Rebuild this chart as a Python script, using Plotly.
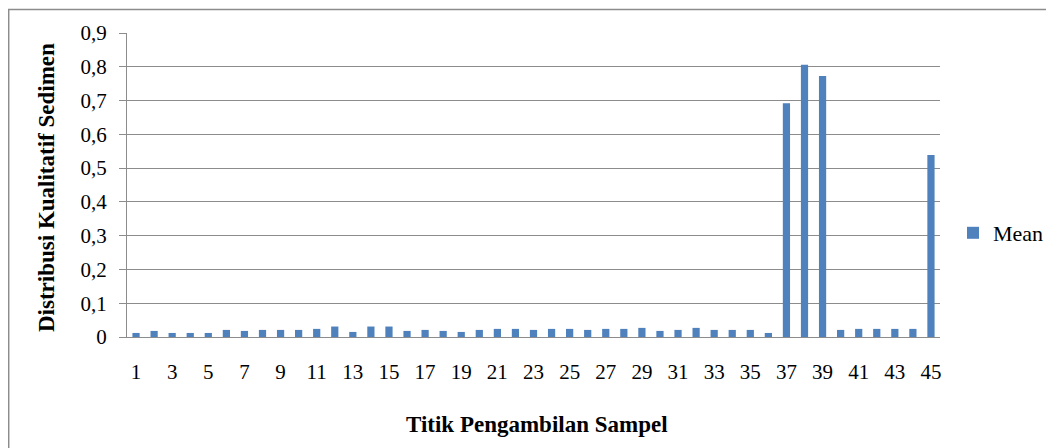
import plotly.graph_objects as go

samples = list(range(1, 46))
mean_values = [
    0.012, 0.018, 0.012, 0.012, 0.012, 0.021, 0.018, 0.021, 0.021, 0.021,
    0.024, 0.031, 0.015, 0.031, 0.031, 0.018, 0.021, 0.018, 0.015, 0.021,
    0.024, 0.024, 0.021, 0.024, 0.024, 0.021, 0.024, 0.024, 0.027, 0.018,
    0.021, 0.027, 0.021, 0.021, 0.021, 0.012, 0.692, 0.806, 0.773, 0.021,
    0.024, 0.024, 0.024, 0.024, 0.539,
]
tick_labels = [str(i) for i in range(1, 46, 2)]

FONT = "Liberation Serif, Times New Roman, serif"
GRID = "#8c8c8c"

fig = go.Figure()
fig.add_trace(go.Bar(x=samples, y=mean_values, name="Mean",
                     marker=dict(color="#4F81BD", line=dict(width=0))))

# page body has an 8px margin; figure sized to fit the window
OFF = 8
W, H = 1046, 440
L, R, T, B = 119, 114, 25, 111
pw, ph = W - L - R, H - T - B

def px(xs):
    return (xs - OFF - L) / pw

def py(ys):
    return (H - B - (ys - OFF)) / ph

fig.update_layout(
    width=W, height=H,
    margin=dict(l=L, r=R, t=T, b=B, autoexpand=False),
    paper_bgcolor="white", plot_bgcolor="white",
    separators=",.",
    bargap=0.6,
    font=dict(family=FONT, size=21, color="black"),
    showlegend=True,
    legend=dict(x=px(953), y=py(233), xanchor="left", yanchor="middle",
                font=dict(family=FONT, size=22), bgcolor="rgba(0,0,0,0)"),
    xaxis=dict(range=[0.5, 45.5], tickmode="array",
               tickvals=list(range(1, 46, 2)), ticktext=tick_labels,
               showgrid=False, showline=True, linecolor=GRID, linewidth=1,
               ticks="", ticklen=0, tickfont=dict(size=21),
               ticklabelstandoff=16, automargin=False),
    yaxis=dict(range=[0, 0.9], dtick=0.1, tick0=0,
               showgrid=True, gridcolor=GRID, gridwidth=1,
               showline=True, linecolor=GRID, linewidth=1,
               ticks="outside", ticklen=7, tickcolor=GRID,
               tickfont=dict(size=21), zeroline=False,
               ticklabelstandoff=8, automargin=False),
    annotations=[
        dict(text="<b>Titik Pengambilan Sampel</b>", xref="paper", yref="paper",
             x=px(537), y=py(424), xanchor="center", yanchor="middle",
             showarrow=False, font=dict(family=FONT, size=23)),
        dict(text="<b>Distribusi Kualitatif Sedimen</b>", xref="paper", yref="paper",
             x=px(46), y=py(188), xanchor="center", yanchor="middle",
             textangle=-90, showarrow=False, font=dict(family=FONT, size=23)),
    ],
    shapes=[dict(type="rect", xref="paper", yref="paper",
                 x0=px(8.7), x1=px(1080), y0=py(480), y1=py(9.5),
                 line=dict(color="#8c8c8c", width=1.5), layer="below")],
)

fig.write_html("out.html")
